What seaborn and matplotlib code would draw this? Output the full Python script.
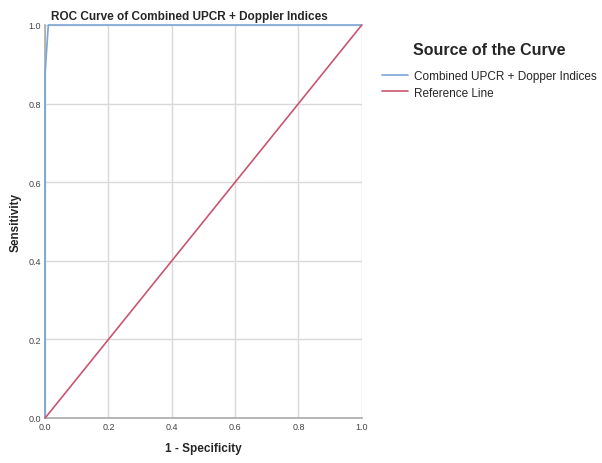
import numpy as np
import pandas as pd
import matplotlib.pyplot as plt
import seaborn as sns

# ROC points
fpr = [0.0, 0.0, 0.01, 1.0]
tpr = [0.0, 0.88, 1.0, 1.0]
ref_x = [0.0, 1.0]
ref_y = [0.0, 1.0]
ticks = [0.0, 0.2, 0.4, 0.6, 0.8, 1.0]

roc = pd.DataFrame({'x': fpr, 'y': tpr, 'curve': 'Combined UPCR + Dopper Indices'})
ref = pd.DataFrame({'x': ref_x, 'y': ref_y, 'curve': 'Reference Line'})
data = pd.concat([roc, ref], ignore_index=True)

sns.set_style('white')
plt.rcParams['font.family'] = ['Liberation Sans', 'DejaVu Sans']

fig = plt.figure(figsize=(6.02, 4.64), dpi=100)
ax = fig.add_axes([0.075, 0.097, 0.526, 0.847])

ax.grid(True, color='#d9d9d9', linewidth=1)
ax.set_axisbelow(True)
for side in ['top', 'right']:
    ax.spines[side].set_visible(False)
for side in ['left', 'bottom']:
    ax.spines[side].set_color('#aaaaaa')
    ax.spines[side].set_linewidth(1.2)

sns.lineplot(data=data, x='x', y='y', hue='curve', sort=False,
             palette=['#7ba6d6', '#c95670'], linewidth=1.2, ax=ax,
             estimator=None)
for line in ax.lines:
    line.set_clip_on(False)
    line.set_zorder(3)

ax.set_xlim(0, 1)
ax.set_ylim(0, 1)
ax.set_xticks(ticks)
ax.set_yticks(ticks)
ax.set_xticklabels([f'{t:.1f}' for t in ticks], fontsize=6.5, color='#444444')
ax.set_yticklabels([f'{t:.1f}' for t in ticks], fontsize=6.5, color='#444444')
ax.tick_params(length=0, pad=3)

ax.set_xlabel('1 - Specificity', fontsize=8.5, fontweight='bold', labelpad=8)
ax.set_ylabel('Sensitivity', fontsize=8.5, fontweight='bold', labelpad=5)
ax.set_title('ROC Curve of Combined UPCR + Doppler Indices', fontsize=8.5,
             fontweight='bold', loc='left', x=0.02, pad=4)

leg = ax.legend(title='Source of the Curve', loc='upper left',
                bbox_to_anchor=(1.03, 0.985), frameon=False, fontsize=8.5,
                title_fontproperties={'size': 11.5, 'weight': 'bold'},
                handlelength=2.2, handletextpad=0.5, labelspacing=0.35)
leg._legend_box.align = 'center'
leg._legend_box.sep = 10

fig.savefig('out.png', dpi=100)
